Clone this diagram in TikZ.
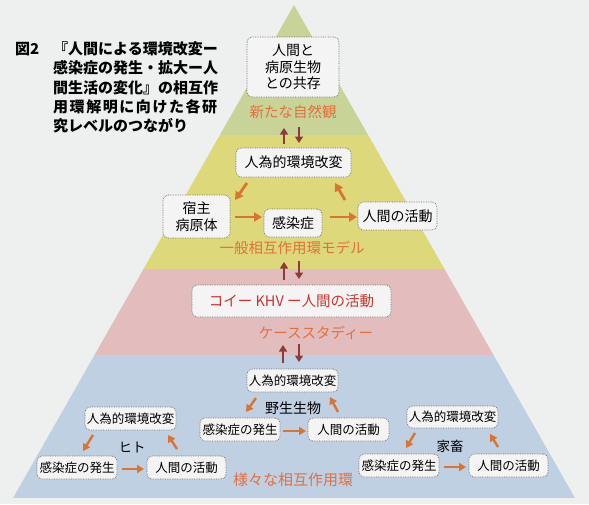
\documentclass[tikz,border=0pt]{standalone}
\usepackage{fontspec}
\setmainfont{Noto Sans CJK JP}
\usetikzlibrary{arrows.meta}
\definecolor{bgc}{HTML}{EEF0F0}
\definecolor{gband}{HTML}{C8D397}
\definecolor{yband}{HTML}{DDD879}
\definecolor{pband}{HTML}{E3BDBD}
\definecolor{bband}{HTML}{BFD0E3}
\definecolor{boxfill}{HTML}{F4F4F4}
\definecolor{boxline}{HTML}{6A6A6A}
\definecolor{orarrow}{HTML}{D9752F}
\definecolor{ortext}{HTML}{E07040}
\definecolor{redtext}{HTML}{C8352E}
\definecolor{darkred}{HTML}{8E3B3B}
\newcommand\fsA{\fontsize{14}{16.5}\selectfont}
\newcommand\fsB{\fontsize{12.5}{14}\selectfont}
\newcommand\fsC{\fontsize{14.5}{17}\selectfont}
\newcommand\fsT{\fontsize{15}{19}\selectfont\bfseries}
\tikzset{
  box/.style={draw=boxline, line width=0.7pt, densely dotted, fill=boxfill, rounded corners=5pt, inner sep=0pt, align=center},
  bigbox/.style={box, font=\fsA},
  smallbox/.style={box, font=\fsB, minimum height=23pt},
  olabel/.style={text=ortext, font=\fsC, inner sep=0pt},
  klabel/.style={text=black, font=\fsA, inner sep=0pt},
  tline/.style={anchor=west, font=\fsT, inner sep=0pt},
  oarrowA/.style={draw=orarrow, line width=2.8pt, -{Triangle[length=8pt,width=9pt]}},
  oarrowB/.style={draw=orarrow, line width=2.4pt, -{Triangle[length=7pt,width=8pt]}},
  darrow/.style={draw=darkred, line width=2.6pt, -{Triangle[length=6.5pt,width=8pt]}}
}
\begin{document}
\begin{tikzpicture}[x=1pt,y=-1pt]
\useasboundingbox (0,0) rectangle (589,504);
\fill[bgc] (0,0) rectangle (589,504);
% pyramid bands
\begin{scope}
\clip (294,5) -- (575,498) -- (13,498) -- cycle;
\fill[gband] (0,0) rectangle (589,135);
\fill[yband] (0,135) rectangle (589,269);
\fill[pband] (0,269) rectangle (589,355);
\fill[bband] (0,355) rectangle (589,498);
\end{scope}
% title
\node[tline] (fig) at (15,49) {図2};
\node[tline] (t1) at (53,49) {『人間による環境改変ー};
\node[tline] (t2) at (53,68) {感染症の発生・拡大ー人};
\node[tline] (t3) at (53,88) {間生活の変化』の相互作};
\node[tline] (t4) at (53,107) {\makebox[164pt][l]{用\hfill 環\hfill 解\hfill 明\hfill に\hfill 向\hfill け\hfill た\hfill 各\hfill 研}};
\node[tline] (t5) at (53,126) {究レベルのつながり};
% top level
\node[bigbox, minimum width=92pt, minimum height=60pt] (coex) at (293,67) {人間と\\病原生物\\との共存};
\node[olabel] (nature) at (293,112) {新たな自然観};
% yellow level
\node[bigbox, minimum width=115pt, minimum height=29pt] (yenv) at (293.5,162.5) {人為的環境改変};
\node[bigbox, minimum width=67pt, minimum height=43pt] (host) at (196.5,216.5) {宿主\\病原体};
\node[bigbox, minimum width=58pt, minimum height=28pt] (inf) at (293,223) {感染症};
\node[bigbox, minimum width=79pt, minimum height=28pt] (yhum) at (397.5,216) {人間の活動};
\node[olabel] (model) at (292,248) {一般相互作用環モデル};
% pink level
\node[box, minimum width=199pt, minimum height=32pt, text=redtext, font=\fsC] (khv) at (291.5,301) {コイー KHV ー人間の活動};
\node[olabel] (case) at (316,333) {ケーススタディー};
% blue level: wildlife
\node[smallbox, minimum width=91pt] (wenv) at (292.5,380.5) {人為的環境改変};
\node[klabel] (wild) at (293,408) {野生生物};
\node[smallbox, minimum width=80pt] (winf) at (240,429.5) {感染症の発生};
\node[smallbox, minimum width=81pt] (whum) at (348.5,429.5) {人間の活動};
% blue level: human
\node[smallbox, minimum width=91pt] (henv) at (130.5,418.5) {人為的環境改変};
\node[klabel, font=\fontsize{13.5}{15}\selectfont] (hito) at (132,447) {ヒト};
\node[smallbox, minimum width=80pt] (hinf) at (77,467.5) {感染症の発生};
\node[smallbox, minimum width=79pt] (hhum) at (186.5,467.5) {人間の活動};
% blue level: livestock
\node[smallbox, minimum width=91pt, minimum height=22pt] (lenv) at (452.5,417) {人為的環境改変};
\node[klabel, font=\fontsize{13.5}{15}\selectfont] (live) at (450,446) {家畜};
\node[smallbox, minimum width=80pt] (linf) at (399,465.5) {感染症の発生};
\node[smallbox, minimum width=79pt] (lhum) at (508.5,465.5) {人間の活動};
\node[olabel, font=\fontsize{15}{17}\selectfont] (various) at (293,480) {様々な相互作用環};
% arrow end coordinates
\coordinate (y1s) at (247,183); \coordinate (y1e) at (235,200);
\coordinate (y2s) at (235,217); \coordinate (y2e) at (262,217);
\coordinate (y3s) at (330,217); \coordinate (y3e) at (357,217);
\coordinate (y4s) at (345,200); \coordinate (y4e) at (335,183);
\coordinate (w1s) at (256,398); \coordinate (w1e) at (246,412);
\coordinate (w2s) at (283,431); \coordinate (w2e) at (306,431);
\coordinate (w3s) at (338,412); \coordinate (w3e) at (330,397);
\coordinate (h1s) at (93,435); \coordinate (h1e) at (83,451);
\coordinate (h2s) at (122,469); \coordinate (h2e) at (144,469);
\coordinate (h3s) at (177,449); \coordinate (h3e) at (168,435);
\coordinate (k1s) at (415,433); \coordinate (k1e) at (406,448);
\coordinate (k2s) at (444,467); \coordinate (k2e) at (466,467);
\coordinate (k3s) at (498,447); \coordinate (k3e) at (490,434);
\coordinate (d1a) at (284,144); \coordinate (d1b) at (284,128);
\coordinate (d1c) at (299,127); \coordinate (d1d) at (299,143);
\coordinate (d2a) at (284,280); \coordinate (d2b) at (284,262);
\coordinate (d2c) at (299,261); \coordinate (d2d) at (299,279);
\coordinate (d3a) at (283,363); \coordinate (d3b) at (283,345);
\coordinate (d3c) at (299,344); \coordinate (d3d) at (299,362);
% orange arrows
\draw[oarrowA] (y1s) -- (y1e);
\draw[oarrowA] (y2s) -- (y2e);
\draw[oarrowA] (y3s) -- (y3e);
\draw[oarrowA] (y4s) -- (y4e);
\foreach \p in {w,h,k}{
  \draw[oarrowB] (\p1s) -- (\p1e);
  \draw[oarrowB] (\p2s) -- (\p2e);
  \draw[oarrowB] (\p3s) -- (\p3e);
}
% dark red arrows between levels
\foreach \q in {d1,d2,d3}{
  \draw[darrow] (\q a) -- (\q b);
  \draw[darrow] (\q c) -- (\q d);
}
\end{tikzpicture}
\end{document}
